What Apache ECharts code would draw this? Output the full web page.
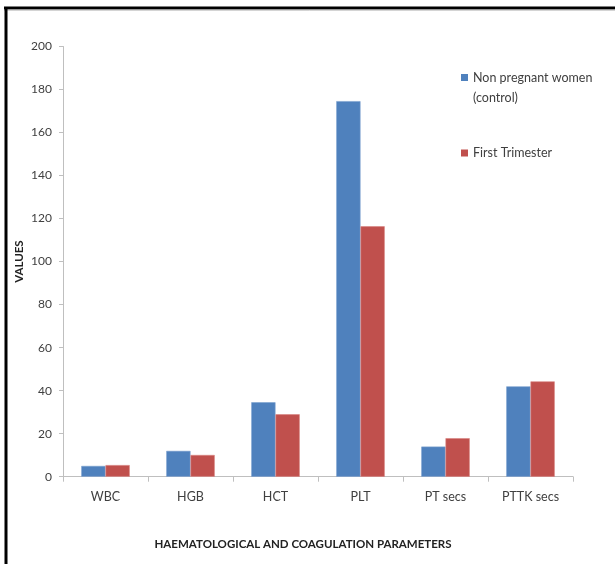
<!DOCTYPE html>
<html>
<head>
<meta charset="utf-8">
<script src="https://cdn.jsdelivr.net/npm/echarts@6/dist/echarts.min.js"></script>
<style>
html,body{margin:0;padding:0;background:#fff;}
#c{width:615px;height:564px;}
</style>
</head>
<body>
<div id="c"></div>
<script>
var categories = ['WBC', 'HGB', 'HCT', 'PLT', 'PT secs', 'PTTK secs'];
var controlValues = [5.0, 12.0, 34.6, 174.6, 14.0, 42.0];
var firstTrimesterValues = [5.4, 10.1, 29.0, 116.4, 17.9, 44.3];
var seriesNames = ['Non pregnant women (control)', 'First Trimester'];
var yTicks = { min: 0, max: 200, interval: 20 };

var font = 'Lato';
var chart = echarts.init(document.getElementById('c'));
chart.setOption({
  animation: false,
  backgroundColor: '#fff',
  textStyle: { fontFamily: font },
  grid: { left: 63, right: 42, top: 46.5, bottom: 87.3, containLabel: false },
  legend: [
    {
      data: [seriesNames[0]],
      left: 456, top: 42.5,
      itemWidth: 7, itemHeight: 7, icon: 'rect',
      itemStyle: { borderWidth: 0 },
      formatter: function () { return '\nNon pregnant women\n(control)'; },
      textStyle: { fontFamily: font, fontSize: 12.5, color: '#404040', lineHeight: 20 }
    },
    {
      data: [seriesNames[1]],
      left: 456, top: 138,
      itemWidth: 7, itemHeight: 7, icon: 'rect',
      itemStyle: { borderWidth: 0 },
      textStyle: { fontFamily: font, fontSize: 12.5, color: '#404040', lineHeight: 20 }
    }
  ],
  xAxis: {
    type: 'category',
    data: categories,
    name: 'HAEMATOLOGICAL AND COAGULATION PARAMETERS',
    nameLocation: 'middle',
    nameGap: 62,
    nameTextStyle: { fontFamily: font, fontWeight: 'bold', fontSize: 11.5, color: '#222', padding: [0, 30, 0, 0] },
    axisLine: { lineStyle: { color: '#bfbfbf', width: 1 } },
    axisTick: { show: true, length: 5, lineStyle: { color: '#bfbfbf' } },
    axisLabel: { margin: 14, fontFamily: font, fontSize: 12.5, color: '#404040' }
  },
  yAxis: {
    type: 'value',
    min: yTicks.min, max: yTicks.max, interval: yTicks.interval,
    name: 'VALUES',
    nameLocation: 'middle',
    nameGap: 38,
    nameMoveOverlap: false,
    nameRotate: 90,
    nameTextStyle: { fontFamily: font, fontWeight: 'bold', fontSize: 11.5, color: '#222' },
    axisLine: { show: true, lineStyle: { color: '#bfbfbf', width: 1 } },
    axisTick: { show: true, length: 4, lineStyle: { color: '#bfbfbf' } },
    splitLine: { show: false },
    axisLabel: { margin: 11, fontFamily: font, fontSize: 12, color: '#404040' }
  },
  series: [
    {
      name: seriesNames[0], type: 'bar', data: controlValues,
      barGap: '0%', barCategoryGap: '43%',
      itemStyle: { color: '#4f81bd', borderColor: '#7aa0cf', borderWidth: 0.6 }
    },
    {
      name: seriesNames[1], type: 'bar', data: firstTrimesterValues,
      barGap: '0%', barCategoryGap: '43%',
      itemStyle: { color: '#c0504d', borderColor: '#d98280', borderWidth: 0.6 }
    }
  ],
  graphic: [
    { type: 'line', shape: { x1: 4, y1: 8, x2: 615, y2: 8 }, style: { stroke: '#000', lineWidth: 3 } },
    { type: 'line', shape: { x1: 4, y1: 10, x2: 615, y2: 10 }, style: { stroke: '#aaa', lineWidth: 1 } },
    { type: 'line', shape: { x1: 6, y1: 7, x2: 6, y2: 564 }, style: { stroke: '#000', lineWidth: 3 } }
  ]
});
</script>
</body>
</html>
